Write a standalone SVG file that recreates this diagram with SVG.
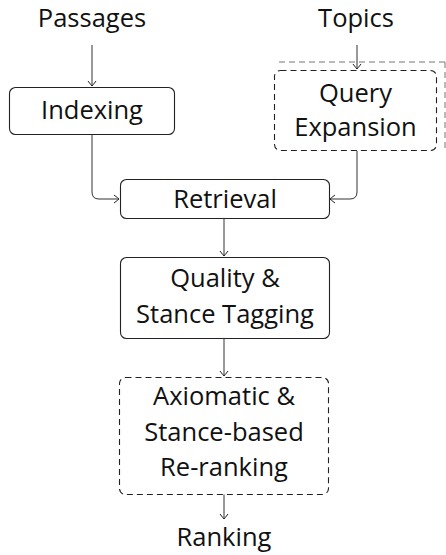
<svg xmlns="http://www.w3.org/2000/svg" width="446" height="555" viewBox="0 0 446 555">
<defs>
<marker id="to" viewBox="-6 -5 8 10" markerWidth="8" markerHeight="10" refX="0" refY="0" orient="auto" markerUnits="userSpaceOnUse">
<path d="M-5,-4 Q-1,-1 0,0 Q-1,1 -5,4" fill="none" stroke="#222" stroke-width="1"/>
</marker>
</defs>
<style>
text{font-family:"Open Sans","Liberation Sans",sans-serif;font-size:25.5px;fill:#111;text-anchor:middle}
.box{fill:#fff;stroke:#222;stroke-width:1.1}
.dash{stroke-dasharray:6,4}
.edge{fill:none;stroke:#333;stroke-width:1;marker-end:url(#to)}
.ghost{fill:none;stroke:#777;stroke-width:1;stroke-dasharray:6,4}
</style>
<rect width="446" height="555" fill="#fff"/>
<g id="ghost">
<path class="ghost" d="M279,62 H446"/>
<path class="ghost" d="M445,62 V150"/>
</g>
<g id="connectors">
<path class="edge" d="M92,45 V86"/>
<path class="edge" d="M357,45 V69"/>
<path class="edge" d="M92,134 V192 Q92,199 99,199 H119"/>
<path class="edge" d="M357,151 V192 Q357,199 350,199 H330"/>
<path class="edge" d="M224,219 V256"/>
<path class="edge" d="M224,338 V376"/>
<path class="edge" d="M224,494 V519"/>
</g>
<g id="passages"><text x="92" y="27">Passages</text></g>
<g id="topics"><text x="356" y="27">Topics</text></g>
<g id="indexing">
<rect class="box" x="9.5" y="87.5" width="165" height="47" rx="6"/>
<text x="92" y="119">Indexing</text>
</g>
<g id="query-expansion">
<rect class="box dash" x="274.5" y="70.5" width="162" height="80" rx="6"/>
<text x="355.5" y="102">Query</text>
<text x="355.5" y="136">Expansion</text>
</g>
<g id="retrieval">
<rect class="box" x="120.5" y="179.5" width="209" height="39" rx="6"/>
<text x="225" y="208">Retrieval</text>
</g>
<g id="tagging">
<rect class="box" x="120.5" y="257.5" width="209" height="81" rx="6"/>
<text x="225" y="287">Quality &amp;</text>
<text x="225" y="323">Stance Tagging</text>
</g>
<g id="reranking">
<rect class="box dash" x="119.5" y="377.5" width="209" height="117" rx="6"/>
<text x="224" y="405">Axiomatic &amp;</text>
<text x="224" y="441">Stance-based</text>
<text x="224" y="476">Re-ranking</text>
</g>
<g id="ranking"><text x="224" y="546">Ranking</text></g>
</svg>
